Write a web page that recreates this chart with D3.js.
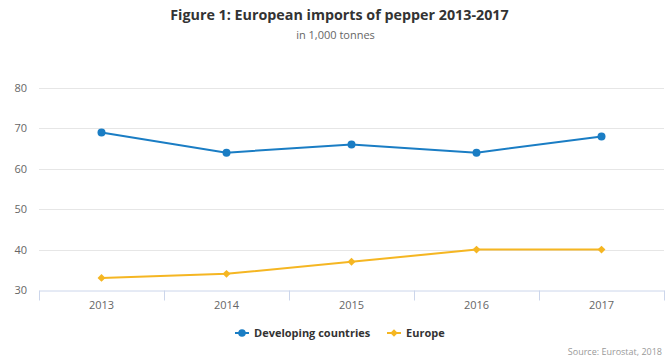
<!DOCTYPE html>
<html>
<head>
<meta charset="utf-8">
<script src="https://cdn.jsdelivr.net/npm/d3@7"></script>
<style>
  body { margin: 0; background: #fff; }
  text { font-family: "Open Sans", sans-serif; }
</style>
</head>
<body>
<script>
// data
const years = ["2013", "2014", "2015", "2016", "2017"];
const developing = [69, 64, 66, 64, 68];
const europe = [33, 34, 37, 40, 40];
const yTicks = [30, 40, 50, 60, 70, 80];

const W = 671, H = 359;
const m = { left: 39, right: 7, top: 88, bottom: 69 };

const svg = d3.select("body").append("svg")
  .attr("width", W).attr("height", H);

const x = d3.scaleBand().domain(years).range([m.left, W - m.right]);
const y = d3.scaleLinear().domain([30, 80]).range([H - m.bottom, m.top]);

// title
svg.append("text")
  .attr("x", W / 2 + 4).attr("y", 20)
  .attr("text-anchor", "middle")
  .attr("font-size", 14.3).attr("font-weight", "bold")
  .attr("fill", "#333")
  .text("Figure 1: European imports of pepper 2013-2017");
svg.append("text")
  .attr("x", W / 2).attr("y", 39)
  .attr("text-anchor", "middle")
  .attr("font-size", 11)
  .attr("fill", "#666")
  .text("in 1,000 tonnes");

// grid lines
svg.append("g")
  .selectAll("line")
  .data(yTicks.slice(1))
  .join("line")
  .attr("x1", m.left).attr("x2", W - m.right)
  .attr("y1", d => Math.round(y(d)) + 0.5).attr("y2", d => Math.round(y(d)) + 0.5)
  .attr("stroke", "#e6e6e6");

// y labels
svg.append("g")
  .selectAll("text")
  .data(yTicks)
  .join("text")
  .attr("x", 27).attr("y", d => y(d) + 4)
  .attr("text-anchor", "end")
  .attr("font-size", 11).attr("fill", "#666")
  .text(d => d);

// x axis
const xAxis = svg.append("g")
  .attr("transform", `translate(0,${Math.round(y(30)) + 0.5})`)
  .call(d3.axisBottom(x).tickSize(0).tickPadding(11));
xAxis.select(".domain").attr("stroke", "#ccd6eb");
xAxis.selectAll("text").attr("font-size", 11).attr("fill", "#666")
  .attr("font-family", "Open Sans, sans-serif");
const bounds = years.map(d => x(d)).concat([x.range()[1]]);
xAxis.append("g").selectAll("line")
  .data(bounds)
  .join("line")
  .attr("x1", d => Math.round(d) + 0.5).attr("x2", d => Math.round(d) + 0.5)
  .attr("y1", 0).attr("y2", 10)
  .attr("stroke", "#ccd6eb");

const cx = d => x(d) + x.bandwidth() / 2;
const line = d3.line().x((d, i) => cx(years[i])).y(d => y(d));

const blue = "#1a7dc4", gold = "#f5b622";

svg.append("path").datum(developing)
  .attr("d", line).attr("fill", "none")
  .attr("stroke", blue).attr("stroke-width", 2);
svg.append("g").selectAll("circle")
  .data(developing).join("circle")
  .attr("cx", (d, i) => cx(years[i])).attr("cy", d => y(d))
  .attr("r", 4).attr("fill", blue);

svg.append("path").datum(europe)
  .attr("d", line).attr("fill", "none")
  .attr("stroke", gold).attr("stroke-width", 2);
const diamond = d3.symbol().type(d3.symbolDiamond2).size(40);
svg.append("g").selectAll("path")
  .data(europe).join("path")
  .attr("d", diamond)
  .attr("transform", (d, i) => `translate(${cx(years[i])},${y(d)})`)
  .attr("fill", gold);

// legend
const legend = [
  { name: "Developing countries", color: blue, sym: "circle", x: 235 },
  { name: "Europe", color: gold, sym: "diamond", x: 387 }
];
const lg = svg.append("g").selectAll("g")
  .data(legend).join("g")
  .attr("transform", d => `translate(${d.x},333)`);
lg.append("line")
  .attr("x1", 0).attr("x2", 14).attr("y1", 0).attr("y2", 0)
  .attr("stroke", d => d.color).attr("stroke-width", 2);
lg.append("path")
  .attr("d", d => d.sym === "circle"
    ? d3.symbol().type(d3.symbolCircle).size(45)()
    : d3.symbol().type(d3.symbolDiamond2).size(36)())
  .attr("transform", "translate(7,0)")
  .attr("fill", d => d.color);
lg.append("text")
  .attr("x", 19).attr("y", 4)
  .attr("font-size", 11).attr("font-weight", "bold").attr("fill", "#333")
  .text(d => d.name);

// source
svg.append("text")
  .attr("x", 662).attr("y", 355)
  .attr("text-anchor", "end")
  .attr("font-size", 9).attr("fill", "#999")
  .text("Source: Eurostat, 2018");
</script>
</body>
</html>
